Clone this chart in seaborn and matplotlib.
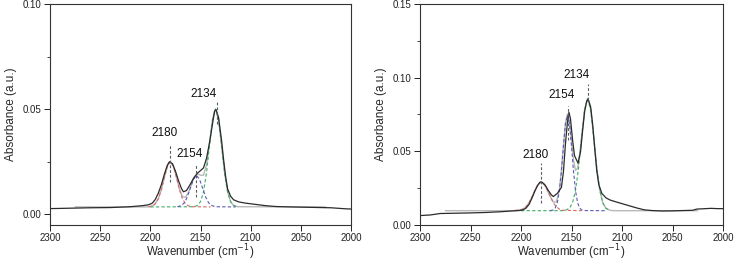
import matplotlib
matplotlib.use("Agg")
import matplotlib.pyplot as plt
import seaborn as sns
from matplotlib.ticker import MultipleLocator

sns.set_style("ticks")
plt.rcParams['font.family'] = ['Liberation Sans', 'DejaVu Sans']

# ---------------- Left panel data ----------------
left_wn = [2300, 2280, 2260, 2240, 2220, 2208, 2202, 2198, 2195, 2192, 2189, 2186, 2183, 2181,
           2178, 2175, 2172, 2169, 2167, 2164, 2161, 2157, 2153, 2150, 2147, 2144, 2141, 2138,
           2136, 2134.5, 2132, 2129, 2127, 2125, 2123, 2120, 2117, 2112, 2105, 2095, 2085, 2075,
           2060, 2040, 2020, 2005, 2000]
left_abs = [0.0026, 0.0028, 0.0030, 0.0031, 0.0035, 0.0040, 0.0044, 0.0052, 0.0070, 0.0100,
            0.0140, 0.0190, 0.0233, 0.0249, 0.0240, 0.0205, 0.0160, 0.0122, 0.0106, 0.0112,
            0.0135, 0.0170, 0.0195, 0.0207, 0.0220, 0.0265, 0.0340, 0.0430, 0.0490, 0.0497,
            0.0460, 0.0350, 0.0260, 0.0180, 0.0120, 0.0085, 0.0068, 0.0058, 0.0052, 0.0046,
            0.0040, 0.0036, 0.0034, 0.0032, 0.0030, 0.0025, 0.0024]

left_fit_wn = [2275, 2205, 2200, 2196, 2192, 2189, 2186, 2183, 2180, 2177, 2174, 2171, 2168,
               2165, 2162, 2159, 2156, 2153, 2150, 2147, 2144, 2141, 2138, 2135, 2132, 2129,
               2126, 2123, 2120, 2117, 2113, 2025]
left_fit_abs = [0.0034, 0.0034, 0.0035, 0.0044, 0.0073, 0.0117, 0.0175, 0.0228, 0.0250, 0.0228,
                0.0176, 0.0120, 0.0083, 0.0080, 0.0103, 0.0142, 0.0178, 0.0192, 0.0185, 0.0185,
                0.0234, 0.0340, 0.0453, 0.0500, 0.0449, 0.0326, 0.0197, 0.0106, 0.0059, 0.0041,
                0.0035, 0.0034]

left_red_wn = [2202, 2198, 2195, 2192, 2189, 2186, 2183, 2180, 2177, 2174, 2171, 2168, 2165,
               2162, 2158, 2140]
left_red_abs = [0.0035, 0.0039, 0.0049, 0.0073, 0.0117, 0.0175, 0.0228, 0.0250, 0.0228,
                0.0175, 0.0117, 0.0073, 0.0049, 0.0039, 0.0035, 0.0034]

left_blue_wn = [2173, 2169, 2166, 2163, 2160, 2157, 2154, 2151, 2148, 2145, 2142, 2139, 2135, 2115]
left_blue_abs = [0.0035, 0.0041, 0.0054, 0.0083, 0.0125, 0.0166, 0.0184, 0.0166, 0.0125,
                 0.0083, 0.0054, 0.0041, 0.0035, 0.0034]

left_green_wn = [2200, 2157, 2153, 2150, 2147, 2144, 2141, 2138, 2135, 2132, 2129, 2126, 2123,
                 2120, 2117, 2113]
left_green_abs = [0.0034, 0.0035, 0.0041, 0.0059, 0.0106, 0.0197, 0.0326, 0.0449, 0.0500,
                  0.0449, 0.0326, 0.0197, 0.0106, 0.0059, 0.0041, 0.0035]

# ---------------- Right panel data ----------------
right_wn = [2300, 2290, 2280, 2265, 2250, 2235, 2220, 2210, 2202, 2198, 2195, 2192, 2189, 2186,
            2183, 2181, 2179, 2176, 2173, 2170, 2168, 2164, 2160, 2158, 2156, 2154, 2152.5, 2151,
            2149, 2147, 2143.5, 2141, 2139, 2137, 2135, 2133.5, 2131, 2129, 2127, 2125, 2123,
            2120, 2116, 2112, 2105, 2095, 2085, 2078, 2070, 2060, 2050, 2040, 2030, 2026, 2020,
            2012, 2005, 2000]
right_abs = [0.0064, 0.0068, 0.0078, 0.0080, 0.0082, 0.0085, 0.0090, 0.0095, 0.0098, 0.0102,
             0.0115, 0.0140, 0.0185, 0.0235, 0.0275, 0.0292, 0.0290, 0.0270, 0.0235, 0.0205,
             0.0193, 0.0215, 0.0255, 0.0360, 0.0550, 0.0700, 0.0765, 0.0720, 0.0580, 0.0470,
             0.0420, 0.0500, 0.0640, 0.0770, 0.0840, 0.0855, 0.0800, 0.0680, 0.0520, 0.0370,
             0.0275, 0.0215, 0.0185, 0.0170, 0.0155, 0.0135, 0.0115, 0.0103, 0.0098, 0.0095,
             0.0096, 0.0098, 0.0100, 0.0108, 0.0110, 0.0113, 0.0111, 0.0111]

right_fit_wn = [2275, 2210, 2205, 2200, 2196, 2192, 2188, 2184, 2180, 2176, 2172, 2168, 2165,
                2162, 2160, 2158, 2156, 2154, 2152, 2150, 2148, 2146, 2144, 2142, 2140, 2137,
                2134, 2131, 2128, 2125, 2122, 2119, 2116, 2112, 2108, 2025]
right_fit_abs = [0.0097, 0.0097, 0.0098, 0.0103, 0.0117, 0.0151, 0.0207, 0.0266, 0.0292,
                 0.0266, 0.0207, 0.0156, 0.0156, 0.0242, 0.0370, 0.0539, 0.0689, 0.0754,
                 0.0703, 0.0572, 0.0439, 0.0370, 0.0386, 0.0474, 0.0600, 0.0783, 0.0860,
                 0.0783, 0.0595, 0.0389, 0.0236, 0.0150, 0.0114, 0.0100, 0.0097, 0.0097]

right_red_wn = [2206, 2202, 2198, 2195, 2192, 2189, 2186, 2183, 2180, 2177, 2174, 2171, 2168,
                2165, 2162, 2158, 2140]
right_red_abs = [0.0099, 0.0101, 0.0108, 0.0123, 0.0151, 0.0192, 0.0239, 0.0277, 0.0292,
                 0.0277, 0.0239, 0.0192, 0.0151, 0.0123, 0.0108, 0.0100, 0.0097]

right_blue_wn = [2171, 2168, 2166, 2164, 2162, 2160, 2158, 2156, 2154, 2152, 2150, 2148, 2146,
                 2144, 2142, 2140, 2137, 2115]
right_blue_abs = [0.0098, 0.0102, 0.0116, 0.0152, 0.0231, 0.0364, 0.0535, 0.0686, 0.0747,
                  0.0686, 0.0535, 0.0364, 0.0231, 0.0152, 0.0116, 0.0102, 0.0098, 0.0097]

right_green_wn = [2200, 2160, 2156, 2152, 2149, 2146, 2143, 2140, 2137, 2134, 2131, 2128, 2125,
                  2122, 2119, 2116, 2112]
right_green_abs = [0.0097, 0.0097, 0.0100, 0.0114, 0.0150, 0.0236, 0.0389, 0.0595, 0.0783,
                   0.0860, 0.0783, 0.0595, 0.0389, 0.0236, 0.0150, 0.0114, 0.0100]

# peak labels
left_peaks = [2180, 2154, 2134]
left_peak_text = ["2180", "2154", "2134"]
left_text_x = [2185.4, 2161, 2147.2]
left_text_y = [0.0385, 0.0287, 0.0572]
left_vline_lo = [0.0155, 0.0080, 0.0430]
left_vline_hi = [0.0335, 0.0240, 0.0545]

right_peaks = [2180, 2153, 2134]
right_peak_text = ["2180", "2154", "2134"]
right_text_x = [2185.4, 2159.3, 2145.4]
right_text_y = [0.0478, 0.0880, 0.1020]
right_vline_lo = [0.0148, 0.0580, 0.0850]
right_vline_hi = [0.0420, 0.0810, 0.0955]

BLACK = "#2b2b2b"
GREY = "#b8b8b8"
RED = "#d96a6a"
BLUE = "#5a5ab8"
GREEN = "#3fae6a"
VL = "#5a5a6a"
DASH = (3.0, 2.0)

fig = plt.figure(figsize=(7.34, 2.63), dpi=100)
axL = fig.add_axes([50 / 734, 1 - 225 / 263, 301 / 734, 221 / 263])
axR = fig.add_axes([420 / 734, 1 - 225 / 263, 303 / 734, 221 / 263])


def draw(ax, wn, ab, fwn, fab, comps, peaks, ptxt, tx, ty, vlo, vhi):
    sns.lineplot(x=fwn, y=fab, ax=ax, color=GREY, lw=1.0, estimator=None, sort=False)
    for cwn, cab, col in comps:
        sns.lineplot(x=cwn, y=cab, ax=ax, color=col, lw=0.8, estimator=None, sort=False)
        ax.lines[-1].set_dashes(DASH)
    sns.lineplot(x=wn, y=ab, ax=ax, color=BLACK, lw=0.9, estimator=None, sort=False)
    for p, t, x, y, lo, hi in zip(peaks, ptxt, tx, ty, vlo, vhi):
        ax.vlines(p, lo, hi, colors=VL, lw=0.8, linestyles=(0, (2.5, 1.8)))
        ax.text(x, y, t, ha="center", va="center", fontsize=8.5, color="#111111")
    ax.set_xlim(2300, 2000)
    ax.xaxis.set_major_locator(MultipleLocator(50))
    ax.set_xlabel("Wavenumber (cm$^{-1}$)", fontsize=8.3, labelpad=0)
    ax.set_ylabel("Absorbance (a.u.)", fontsize=8.5, labelpad=4)
    ax.tick_params(axis="both", which="major", direction="out", length=4, width=0.7,
                   labelsize=7, pad=2, colors="#222222")
    ax.tick_params(axis="x", which="major", pad=1.5)
    ax.tick_params(axis="y", which="minor", direction="out", length=2.5, width=0.6)
    for s in ax.spines.values():
        s.set_linewidth(0.8)
        s.set_color("#333333")
        s.set_visible(True)


draw(axL, left_wn, left_abs, left_fit_wn, left_fit_abs,
     [(left_green_wn, left_green_abs, GREEN), (left_red_wn, left_red_abs, RED),
      (left_blue_wn, left_blue_abs, BLUE)],
     left_peaks, left_peak_text, left_text_x, left_text_y, left_vline_lo, left_vline_hi)
axL.set_ylim(-0.0052, 0.10)
axL.set_yticks([0.0, 0.05, 0.10])
axL.set_yticklabels(["0.00", "0.05", "0.10"])
axL.yaxis.set_minor_locator(MultipleLocator(0.025))

draw(axR, right_wn, right_abs, right_fit_wn, right_fit_abs,
     [(right_green_wn, right_green_abs, GREEN), (right_red_wn, right_red_abs, RED),
      (right_blue_wn, right_blue_abs, BLUE)],
     right_peaks, right_peak_text, right_text_x, right_text_y, right_vline_lo, right_vline_hi)
axR.set_ylim(0, 0.15)
axR.set_yticks([0.0, 0.05, 0.10, 0.15])
axR.set_yticklabels(["0.00", "0.05", "0.10", "0.15"])
axR.yaxis.set_minor_locator(MultipleLocator(0.025))

fig.savefig("out.png", dpi=100)
